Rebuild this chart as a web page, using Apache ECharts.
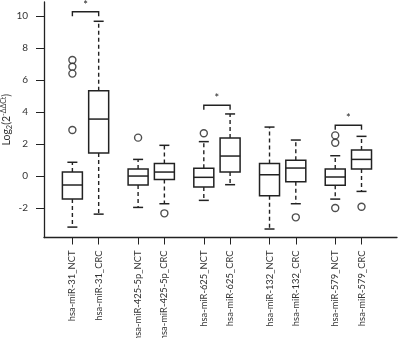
<!DOCTYPE html>
<html>
<head>
<meta charset="utf-8">
<script src="https://cdn.jsdelivr.net/npm/echarts@6/dist/echarts.min.js"></script>
<style>
  html, body { margin: 0; padding: 0; background: #fff; overflow: hidden; }
  #main { width: 398px; height: 338px; }
</style>
</head>
<body>
<div id="main"></div>
<script>
var names = ['hsa-miR-31_NCT', 'hsa-miR-31_CRC', 'hsa-miR-425-5p_NCT', 'hsa-miR-425-5p_CRC',
             'hsa-miR-625_NCT', 'hsa-miR-625_CRC', 'hsa-miR-132_NCT', 'hsa-miR-132_CRC',
             'hsa-miR-579_NCT', 'hsa-miR-579_CRC'];
var positions = [1, 2, 3.5, 4.5, 6, 7, 8.5, 9.5, 11, 12];
// [min, q1, median, q3, max]
var boxes = [
    [-3.19, -1.44, -0.56, 0.25, 0.86],
    [-2.38, 1.44, 3.56, 5.33, 9.67],
    [-1.96, -0.56, 0.0, 0.44, 1.04],
    [-1.73, -0.21, 0.25, 0.79, 1.92],
    [-1.52, -0.69, -0.08, 0.48, 2.15],
    [-0.54, 0.25, 1.25, 2.38, 3.88],
    [-3.31, -1.23, 0.08, 0.79, 3.06],
    [-1.73, -0.35, 0.5, 0.98, 2.25],
    [-1.44, -0.58, -0.06, 0.44, 1.27],
    [-0.96, 0.44, 1.04, 1.63, 2.48]
];
// [x position, value]
var outliers = [
    [1, 7.25], [1, 6.83], [1, 6.4], [1, 2.88],
    [3.5, 2.4],
    [4.5, -2.33],
    [6, 2.67],
    [9.5, -2.58],
    [11, 2.54], [11, 2.08], [11, -2.0],
    [12, -1.92]
];
// [x from, x to, bracket level]
var brackets = [
    [1, 2, 10.27],
    [6, 7, 4.42],
    [11, 12, 3.17]
];
var yTicks = [-2, 0, 2, 4, 6, 8, 10];

var boxData = boxes.map(function (b, i) { return [positions[i]].concat(b); });

var chart = echarts.init(document.getElementById('main'));
var ink = '#222';
var font = 'Lato, sans-serif';

var option = {
    animation: false,
    grid: { left: 44, right: 1, top: 2, bottom: 100.5, outerBoundsMode: 'none', containLabel: false },
    xAxis: {
        type: 'value',
        min: -0.08,
        max: 13.35,
        splitLine: { show: false },
        axisLine: { onZero: false, lineStyle: { color: ink, width: 1.3 } },
        axisTick: { show: true, length: 7, lineStyle: { color: ink }, customValues: positions },
        axisLabel: {
            customValues: positions,
            rotate: 90,
            margin: 13,
            color: '#333',
            fontFamily: font,
            fontSize: 9.4,
            formatter: function (v) {
                var i = positions.indexOf(v);
                return i >= 0 ? names[i] : '';
            }
        }
    },
    yAxis: {
        type: 'value',
        min: -3.84,
        max: 10.875,
        splitLine: { show: false },
        axisLine: { show: true, onZero: false, lineStyle: { color: ink, width: 1.3 } },
        axisTick: { show: true, length: 8, lineStyle: { color: ink }, customValues: yTicks },
        axisLabel: { customValues: yTicks, margin: 16, color: '#333', fontFamily: font, fontSize: 10 },
        name: '{a|Log}{s|2}{a|(2}{p|-ΔΔCt}{a|)}',
        nameLocation: 'middle',
        nameGap: 30,
        nameMoveOverlap: false,
        nameTextStyle: {
            rich: {
                a: { fontSize: 10.5, fontFamily: font, color: '#333', lineHeight: 14, verticalAlign: 'middle' },
                s: { fontSize: 7.5, fontFamily: font, color: '#333', lineHeight: 14, verticalAlign: 'bottom' },
                p: { fontSize: 7, fontFamily: font, color: '#333', lineHeight: 14, verticalAlign: 'top' }
            }
        }
    },
    series: [
        {
            type: 'custom',
            data: boxData,
            encode: { x: 0, y: [1, 2, 3, 4, 5] },
            renderItem: function (params, api) {
                var x = api.value(0);
                var pMin = api.coord([x, api.value(1)]);
                var pQ1 = api.coord([x, api.value(2)]);
                var pMed = api.coord([x, api.value(3)]);
                var pQ3 = api.coord([x, api.value(4)]);
                var pMax = api.coord([x, api.value(5)]);
                var cx = pMed[0], hw = 10, cw = 5;
                var solid = { stroke: ink, lineWidth: 1.5, fill: null };
                var dashed = { stroke: ink, lineWidth: 1.4, lineDash: [4, 3] };
                return {
                    type: 'group',
                    children: [
                        { type: 'line', shape: { x1: cx, y1: pQ3[1], x2: cx, y2: pMax[1] }, style: dashed },
                        { type: 'line', shape: { x1: cx, y1: pQ1[1], x2: cx, y2: pMin[1] }, style: dashed },
                        { type: 'line', shape: { x1: cx - cw, y1: pMax[1], x2: cx + cw, y2: pMax[1] }, style: solid },
                        { type: 'line', shape: { x1: cx - cw, y1: pMin[1], x2: cx + cw, y2: pMin[1] }, style: solid },
                        { type: 'rect', shape: { x: cx - hw, y: pQ3[1], width: 2 * hw, height: pQ1[1] - pQ3[1] }, style: { stroke: ink, lineWidth: 1.5, fill: '#fff' } },
                        { type: 'line', shape: { x1: cx - hw, y1: pMed[1], x2: cx + hw, y2: pMed[1] }, style: solid }
                    ]
                };
            }
        },
        {
            type: 'scatter',
            data: outliers,
            symbol: 'circle',
            symbolSize: 7,
            itemStyle: { color: '#fff', borderColor: ink, borderWidth: 1.4 }
        },
        {
            type: 'custom',
            data: brackets,
            encode: { x: [0, 1], y: 2 },
            renderItem: function (params, api) {
                var a = api.coord([api.value(0), api.value(2)]);
                var b = api.coord([api.value(1), api.value(2)]);
                var st = { stroke: ink, lineWidth: 1.4, fill: null };
                return {
                    type: 'group',
                    children: [
                        { type: 'polyline', shape: { points: [[a[0], a[1] + 4.5], [a[0], a[1]], [b[0], b[1]], [b[0], b[1] + 4.5]] }, style: st },
                        { type: 'text', style: { text: '*', x: (a[0] + b[0]) / 2, y: a[1] - 1, align: 'center', verticalAlign: 'bottom', fill: ink, font: '11px ' + font } }
                    ]
                };
            }
        }
    ]
};
chart.setOption(option);
</script>
</body>
</html>
